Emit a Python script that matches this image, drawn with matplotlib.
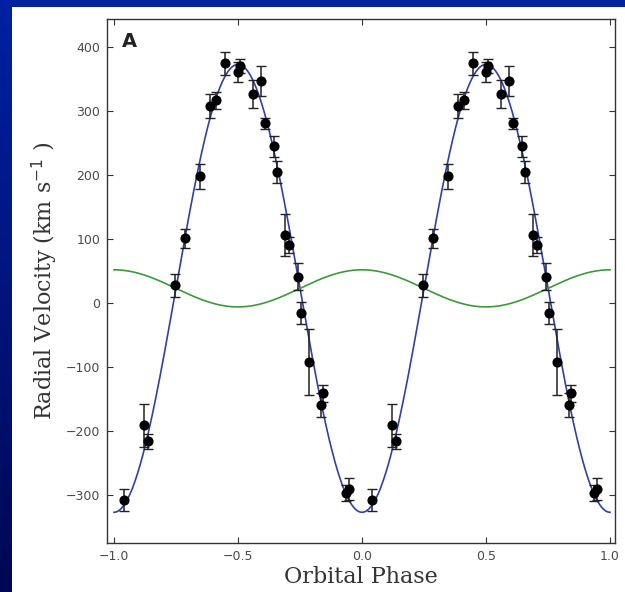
import numpy as np
import matplotlib
matplotlib.use("Agg")
import matplotlib.pyplot as plt
from matplotlib.patches import Rectangle

# ---- data (phase-folded radial velocities) ----
phase = [0.040, 0.121, 0.137, 0.246, 0.287, 0.347, 0.387, 0.411, 0.448, 0.500,
         0.508, 0.561, 0.593, 0.609, 0.645, 0.657, 0.689, 0.706, 0.742, 0.754,
         0.786, 0.835, 0.843, 0.935, 0.948]
velocity = [-308, -191, -216, 28, 101, 198, 308, 317, 375, 361,
            370, 327, 347, 281, 245, 205, 106, 91, 41, -15,
            -92, -159, -141, -297, -291]
velocity_err = [17, 34, 12, 18, 15, 19, 18, 13, 18, 16,
                11, 22, 23, 9, 16, 17, 33, 13, 21, 17,
                51, 19, 13, 13, 17]

# ---- fitted orbit parameters (km/s) ----
systemic_velocity = 23
k_star = 350
k_companion = 29

x_ticks = [-1.0, -0.5, 0.0, 0.5, 1.0]
y_ticks = [-300, -200, -100, 0, 100, 200, 300, 400]

fig = plt.figure(figsize=(6.25, 5.92), dpi=100)

# slide background (blue gradient) and white panel
bg = fig.add_axes([0, 0, 1, 1], zorder=-10)
bg.set_axis_off()
top = np.array([0.0, 0.13, 0.64])
bottom = np.array([0.0, 0.03, 0.33])
t = np.linspace(0, 1, 256)[:, None]
grad = top[None, :] * (1 - t) + bottom[None, :] * t
bg.imshow(grad[:, None, :].repeat(4, axis=1), aspect="auto", extent=[0, 1, 0, 1],
          transform=bg.transAxes)
bg.add_patch(Rectangle((12 / 625, 0), 1, (592 - 7) / 592, transform=bg.transAxes,
                       facecolor="white", edgecolor="none"))

ax = fig.add_axes([107 / 625, 1 - 543 / 592, (615 - 107) / 625, (543 - 19) / 592])
ax.set_facecolor("white")

ph = np.linspace(-1.0, 1.0, 801)
ax.plot(ph, systemic_velocity - k_star * np.cos(2 * np.pi * ph),
        color="#2f42a4", lw=1.2, zorder=2)
ax.plot(ph, systemic_velocity + k_companion * np.cos(2 * np.pi * ph),
        color="#3c9a3c", lw=1.2, zorder=2)

ph_arr = np.array(phase)
for shift in (0.0, -1.0):
    ax.errorbar(ph_arr + shift, velocity, yerr=velocity_err, fmt="o",
                color="black", ecolor="#222222", elinewidth=1.1, capsize=3.5,
                capthick=1.0, ms=6.3, zorder=3)

ax.set_xlim(-1.028, 1.02)
ax.set_ylim(-375, 444)
ax.set_xticks(x_ticks)
ax.set_yticks(y_ticks)
ax.set_xticklabels([f"{v:.1f}".replace("-", "\u2212") for v in x_ticks])
ax.tick_params(direction="in", top=True, right=True, length=4, width=0.8,
               colors="#333333", labelcolor="#4a4a4a", labelsize=9, pad=5)
for sp in ax.spines.values():
    sp.set_color("#333333")
    sp.set_linewidth(1.0)

ax.set_xlabel("Orbital Phase", family="DejaVu Serif", fontsize=16, color="#333333",
              labelpad=2)
ax.set_ylabel(r"Radial Velocity (km s$^{-1}$ )", family="DejaVu Serif", fontsize=16,
              color="#333333", labelpad=4)
ax.text(0.03, 0.975, "A", transform=ax.transAxes, ha="left", va="top",
        fontsize=14, fontweight="bold", family="DejaVu Sans", color="#222222")

fig.savefig("out.png", dpi=100)
